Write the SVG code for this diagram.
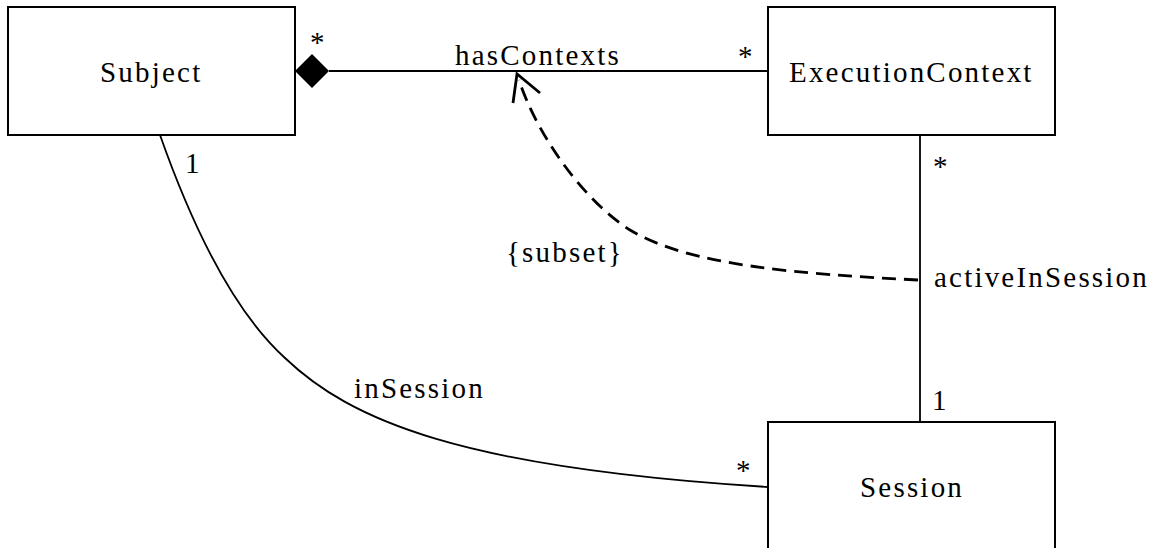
<svg xmlns="http://www.w3.org/2000/svg" width="1151" height="548" viewBox="0 0 1151 548">
<style>
.box{fill:#fff;stroke:#000;stroke-width:2}
text{font-family:'Liberation Serif',serif;font-size:29px;letter-spacing:2.2px;fill:#000}
.ln{fill:none;stroke:#000;stroke-width:1.8}
.dash{fill:none;stroke:#000;stroke-width:2.8;stroke-dasharray:14 8}
</style>
<rect width="1151" height="548" fill="#fff"/>
<g id="connectors">
  <line class="ln" x1="329" y1="71" x2="768" y2="71"/>
  <polygon points="295,71 312,54 329,71 312,88" fill="#000"/>
  <line class="ln" x1="920" y1="135" x2="920" y2="422"/>
  <path class="ln" d="M160,135 C190,220 232,310 285,358 C350,420 460,468 768,487"/>
  <path class="dash" d="M918,280 C800,274 690,266 630,230 C580,198 535,130 519,80"/>
  <polyline points="513,103 517,74 540,93" fill="none" stroke="#000" stroke-width="2.8"/>
  <text font-family="Liberation Serif" x="310" y="52">*</text>
  <text font-family="Liberation Serif" x="455" y="65">hasContexts</text>
  <text font-family="Liberation Serif" x="738" y="66">*</text>
  <text font-family="Liberation Serif" x="933" y="176">*</text>
  <text font-family="Liberation Serif" x="934" y="287">activeInSession</text>
  <text font-family="Liberation Serif" x="932" y="410">1</text>
  <text font-family="Liberation Serif" x="185" y="173">1</text>
  <text font-family="Liberation Serif" x="354" y="398">inSession</text>
  <text font-family="Liberation Serif" x="736" y="480">*</text>
  <text font-family="Liberation Serif" x="506" y="262">{subset}</text>
</g>
<g id="subject">
  <rect class="box" x="8" y="7" width="287" height="128"/>
  <text font-family="Liberation Serif" x="100" y="82">Subject</text>
</g>
<g id="executionContext">
  <rect class="box" x="768" y="7" width="287" height="128"/>
  <text font-family="Liberation Serif" x="789" y="82">ExecutionContext</text>
</g>
<g id="session">
  <rect class="box" x="768" y="422" width="287" height="140"/>
  <text font-family="Liberation Serif" x="860" y="497">Session</text>
</g>
</svg>
